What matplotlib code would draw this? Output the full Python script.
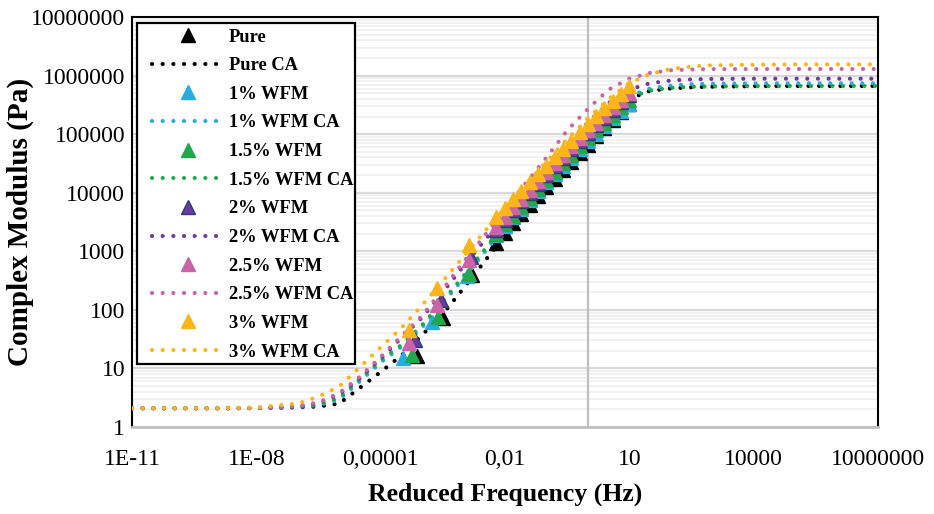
import numpy as np
import matplotlib
matplotlib.use('Agg')
from matplotlib import pyplot as plt
from matplotlib.patches import Rectangle
from matplotlib.ticker import LogLocator, NullLocator, NullFormatter

plt.rcParams['font.family'] = ['Liberation Serif', 'DejaVu Serif']

# ---- data ----
series_names = ['Pure', '1% WFM', '1.5% WFM', '2% WFM', '2.5% WFM', '3% WFM']

x_ticks = [1e-11, 1e-8, 1e-5, 1e-2, 1e1, 1e4, 1e7]
x_tick_labels = ['1E-11', '1E-08', '0,00001', '0,01', '10', '10000', '10000000']
y_ticks = [1, 10, 100, 1000, 10000, 100000, 1000000, 10000000]
y_tick_labels = ['1', '10', '100', '1000', '10000', '100000', '1000000', '10000000']

# measured points: a few low-frequency points then the dense sweep
freq_low_pure = [7.6e-5, 3.2e-4, 1.58e-3]
freq_low_1 = [3.55e-5, 1.7e-4, 1.2e-3]
freq_low_15 = [5.6e-5, 2.4e-4, 1.32e-3]
freq_low_2 = [6.8e-5, 2.8e-4, 1.48e-3]
freq_low_25 = [4.9e-5, 2.34e-4, 1.32e-3]
freq_low_3 = [4.9e-5, 2.34e-4, 1.32e-3]
freq_sweep = [0.006, 0.01, 0.016, 0.025, 0.04, 0.063, 0.1, 0.16, 0.25, 0.4,
              0.63, 1.0, 1.6, 2.5, 4.0, 6.3, 10.0]

g_pure = [16.2, 72, 398,
          1410, 2090, 3020, 4270, 6170, 8710, 12300, 17400, 24000, 33900,
          46800, 66100, 91200, 126000, 174000, 240000, 324000]
g_1 = [14.8, 63, 372,
       1860, 2690, 3800, 5370, 7590, 10700, 15100, 20900, 28800, 39800,
       55000, 75900, 102000, 138000, 186000, 251000, 331000]
g_15 = [17, 76, 417,
        2000, 2880, 4070, 5750, 8130, 11500, 16200, 22900, 31600, 44700,
        61700, 85100, 117000, 158000, 214000, 288000, 380000]
g_2 = [31, 148, 800,
       2340, 3470, 5010, 7080, 10000, 14100, 20000, 28200, 38900, 55000,
       75900, 105000, 141000, 191000, 257000, 347000, 457000]
g_25 = [27, 120, 708,
        2630, 3890, 5620, 7940, 11200, 15800, 22400, 31600, 43700, 61700,
        85100, 117000, 158000, 214000, 288000, 389000, 513000]
g_3 = [46, 234, 1290,
       3800, 5500, 7750, 10700, 15100, 20900, 28800, 40700, 56200, 77600,
       110000, 151000, 204000, 275000, 372000, 490000, 660000]

# CA model curves
freq_ca = [1e-11, 1e-9, 1e-8, 3.16e-8, 1e-7, 3.16e-7, 1e-6, 3.16e-6, 1e-5,
           3.16e-5, 1e-4, 3.16e-4, 1e-3, 3.16e-3, 1e-2, 3.16e-2, 0.1, 0.316,
           1, 3.16, 10, 31.6, 100, 316, 1000, 1e4, 1e5, 1e6, 1e7]
ca_pure = [2.09, 2.09, 2.10, 2.12, 2.16, 2.24, 2.51, 4.68, 8.71, 16.6, 37.2,
           85.1, 234, 661, 1860, 5010, 13200, 34700, 87100, 200000, 398000,
           550000, 603000, 631000, 646000, 661000, 664000, 664000, 664000]
ca_1 = [2.09, 2.09, 2.11, 2.13, 2.19, 2.36, 2.95, 6.03, 12.6, 23.4, 50.1,
        129, 347, 955, 2630, 7080, 18600, 46800, 112000, 251000, 447000,
        603000, 676000, 716000, 729000, 736000, 738000, 738000, 738000]
ca_15 = [2.09, 2.09, 2.11, 2.14, 2.21, 2.40, 3.16, 6.61, 13.8, 25.1, 55.0,
         141, 380, 1050, 2880, 7590, 19500, 47900, 112000, 240000, 417000,
         556000, 617000, 646000, 653000, 661000, 664000, 664000, 664000]
ca_2 = [2.09, 2.09, 2.11, 2.15, 2.26, 2.57, 3.63, 6.76, 14.8, 33.1, 74.1,
        200, 562, 1510, 3980, 10500, 26900, 67600, 158000, 339000, 575000,
        741000, 822000, 861000, 877000, 885000, 885000, 885000, 885000]
ca_25 = [2.09, 2.09, 2.12, 2.16, 2.29, 2.63, 3.80, 7.24, 15.8, 35.5, 79.4,
         224, 661, 1820, 5130, 14500, 39800, 115000, 269000, 575000, 891000,
         1110000, 1230000, 1270000, 1290000, 1290000, 1295000, 1295000, 1295000]
ca_3 = [2.09, 2.10, 2.14, 2.34, 2.51, 3.31, 4.90, 10.5, 22.9, 49.0, 120,
        309, 813, 2140, 5500, 13800, 33900, 81300, 186000, 398000, 741000,
        1070000, 1290000, 1430000, 1500000, 1530000, 1550000, 1550000, 1550000]

# ---- styles ----
colors = ['#000000', '#29ABE2', '#22A84A', '#6B3A9E', '#C964A6', '#FAB51B']
edge_colors = ['#000000', '#29ABE2', '#22A84A', '#2A3F70', '#C964A6', '#FAB51B']
dot_style = (0, (0.01, 2.55))

measured = [
    (freq_low_pure + freq_sweep, g_pure, ca_pure),
    (freq_low_1 + freq_sweep, g_1, ca_1),
    (freq_low_15 + freq_sweep, g_15, ca_15),
    (freq_low_2 + freq_sweep, g_2, ca_2),
    (freq_low_25 + freq_sweep, g_25, ca_25),
    (freq_low_3 + freq_sweep, g_3, ca_3),
]

W, H = 934, 514
fig = plt.figure(figsize=(W / 100, H / 100), dpi=100)
ax = fig.add_axes([132 / W, 1 - 427 / H, (878 - 132) / W, (427 - 17) / H])
ax.set_xscale('log')
ax.set_yscale('log')
ax.set_xlim(1e-11, 1e7)
ax.set_ylim(1, 1e7)

# gridlines
ax.yaxis.set_minor_locator(LogLocator(base=10, subs=np.arange(2, 10)))
ax.yaxis.set_minor_formatter(NullFormatter())
ax.xaxis.set_minor_locator(NullLocator())
ax.grid(True, axis='y', which='major', color='#D9D9D9', lw=1.6, zorder=0)
ax.grid(True, axis='y', which='minor', color='#EFEFEF', lw=1.2, zorder=0)
ax.set_axisbelow(True)
ax.axvline(1, color='#BFBFBF', lw=1.6, zorder=1)

for i, (name, (f, g, ca)) in enumerate(zip(series_names, measured)):
    ax.plot(f, g, linestyle='none', marker='^', ms=10.5, color=colors[i],
            mec=edge_colors[i], mew=1.0, label=name, zorder=3 + 2 * i)
    ax.plot(freq_ca, ca, linestyle=dot_style, lw=3.0, color=colors[i],
            dash_capstyle='round', label=name + ' CA', zorder=4 + 2 * i)

ax.set_xticks(x_ticks)
ax.set_xticklabels(x_tick_labels)
ax.set_yticks(y_ticks)
ax.set_yticklabels(y_tick_labels)
ax.tick_params(axis='both', which='both', length=0, labelsize=17)
ax.tick_params(axis='x', pad=16)
ax.tick_params(axis='y', pad=5)

for side in ['left', 'top', 'right']:
    ax.spines[side].set_color('black')
    ax.spines[side].set_linewidth(1.5)
ax.spines['bottom'].set_color('#BFBFBF')
ax.spines['bottom'].set_linewidth(2)

ax.set_xlabel('Reduced Frequency (Hz)', fontsize=18.5, fontweight='bold')
ax.set_ylabel('Complex Modulus (Pa)', fontsize=21, fontweight='bold')
ax.xaxis.set_label_coords(0.5, -0.135)
ax.yaxis.set_label_coords(-0.131, 0.5)

# legend without its own frame; the frame is drawn as a separate box behind it
leg = ax.legend(loc='upper left', bbox_to_anchor=(146 / W, 1 - 23 / H),
                bbox_transform=fig.transFigure, borderaxespad=0,
                prop={'weight': 'bold', 'size': 13.3}, frameon=False,
                handlelength=3.9, handletextpad=0.3, labelspacing=0.63,
                borderpad=0.3)
leg.set_zorder(30)
frame = Rectangle((137 / W, 1 - 364 / H), (355 - 137) / W, (364 - 23) / H,
                  transform=fig.transFigure, facecolor='white',
                  edgecolor='black', lw=1.6, zorder=25, clip_on=False)
ax.add_artist(frame)

fig.savefig('out.png', dpi=100)
